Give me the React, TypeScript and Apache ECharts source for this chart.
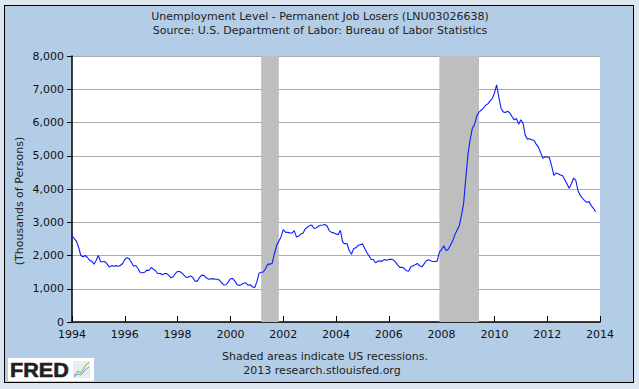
import React, { useEffect, useRef } from "react";
import * as echarts from "echarts";

// Monthly values, thousands of persons, starting January 1994
const values1994 = [2600, 2510, 2430, 2250, 2000, 1960, 2000, 1940, 1860, 1825, 1740, 1860];
const values1995 = [2000, 1810, 1810, 1820, 1740, 1650, 1695, 1675, 1695, 1675, 1700, 1760];
const values1996 = [1880, 1935, 1900, 1795, 1675, 1700, 1610, 1490, 1480, 1495, 1560, 1550];
const values1997 = [1640, 1590, 1540, 1450, 1465, 1420, 1455, 1460, 1400, 1330, 1360, 1460];
const values1998 = [1520, 1520, 1470, 1400, 1340, 1350, 1385, 1330, 1230, 1230, 1340, 1410];
const values1999 = [1400, 1330, 1290, 1295, 1305, 1285, 1285, 1260, 1180, 1115, 1120, 1200];
const values2000 = [1300, 1310, 1230, 1130, 1100, 1130, 1165, 1180, 1110, 1120, 1060, 1030];
const values2001 = [1200, 1465, 1495, 1505, 1610, 1740, 1740, 1770, 2050, 2300, 2430, 2560];
const values2002 = [2780, 2700, 2695, 2680, 2675, 2750, 2560, 2580, 2645, 2670, 2800, 2850];
const values2003 = [2900, 2920, 2810, 2830, 2880, 2910, 2915, 2935, 2880, 2740, 2695, 2680];
const values2004 = [2650, 2625, 2760, 2400, 2355, 2360, 2150, 2040, 2200, 2230, 2300, 2325];
const values2005 = [2350, 2220, 2090, 1990, 1880, 1880, 1780, 1830, 1830, 1830, 1880, 1860];
const values2006 = [1880, 1890, 1870, 1810, 1720, 1640, 1650, 1610, 1540, 1530, 1660, 1690];
const values2007 = [1720, 1760, 1690, 1660, 1740, 1840, 1870, 1840, 1820, 1820, 1830, 2110];
const values2008 = [2180, 2290, 2150, 2190, 2300, 2440, 2620, 2760, 2890, 3200, 3560, 4330];
const values2009 = [5050, 5500, 5830, 5950, 6200, 6310, 6370, 6430, 6520, 6560, 6650, 6720];
const values2010 = [6880, 7130, 6770, 6430, 6320, 6300, 6340, 6290, 6180, 6080, 6120, 5950];
const values2011 = [6080, 5980, 5620, 5500, 5510, 5480, 5460, 5350, 5260, 5100, 4920, 4970];
const values2012 = [4960, 4940, 4700, 4410, 4480, 4460, 4420, 4400, 4280, 4150, 4020, 4160];
const values2013 = [4330, 4260, 3950, 3810, 3730, 3650, 3600, 3620, 3500, 3420, 3320];

const startYear = 1994;
const endYear = 2014;
// Recessions as month offsets from January 1994 (Mar 2001-Nov 2001, Dec 2007-Jun 2009)
const recessionStarts = [86, 167];
const recessionEnds = [94, 185];

const titleLine1 = "Unemployment Level - Permanent Job Losers (LNU03026638)";
const titleLine2 = "Source: U.S. Department of Labor: Bureau of Labor Statistics";
const yAxisTitle = "(Thousands of Persons)";
const noteLine1 = "Shaded areas indicate US recessions.";
const noteLine2 = "2013 research.stlouisfed.org";

const allValues = [
  ...values1994, ...values1995, ...values1996, ...values1997, ...values1998,
  ...values1999, ...values2000, ...values2001, ...values2002, ...values2003,
  ...values2004, ...values2005, ...values2006, ...values2007, ...values2008,
  ...values2009, ...values2010, ...values2011, ...values2012, ...values2013,
];

const FONT = "DejaVu Sans, Verdana, sans-serif";

export default function App() {
  const ref = useRef<HTMLDivElement>(null);

  useEffect(() => {
    if (!ref.current) return;
    const chart = echarts.init(ref.current, null, { renderer: "svg" });
    const seriesData = allValues.map((v, i) => [i, v]);
    const areas = recessionStarts.map((s, i) => [{ xAxis: s }, { xAxis: recessionEnds[i] }]);

    chart.setOption({
      animation: false,
      backgroundColor: "transparent",
      grid: {
        left: 72,
        right: 39,
        top: 56,
        bottom: 67,
        show: true,
        backgroundColor: "#ffffff",
        borderWidth: 0,
      },
      xAxis: {
        type: "value",
        min: 0,
        max: (endYear - startYear) * 12,
        interval: 24,
        axisLine: { show: true, lineStyle: { color: "#000", width: 1.5 } },
        axisTick: { show: true, inside: true, length: 6, lineStyle: { color: "#000" } },
        splitLine: { show: false },
        axisLabel: {
          formatter: (v: number) => String(startYear + v / 12),
          color: "#111",
          fontFamily: FONT,
          fontSize: 11,
          margin: 7,
        },
      },
      yAxis: {
        type: "value",
        min: 0,
        max: 8000,
        interval: 1000,
        axisLine: { show: true, lineStyle: { color: "#000", width: 1.5 } },
        axisTick: { show: true, inside: false, length: 5, lineStyle: { color: "#000" } },
        splitLine: { show: true, lineStyle: { color: "#aaaaaa", width: 1 } },
        axisLabel: {
          formatter: (v: number) => v.toLocaleString("en-US"),
          color: "#111",
          fontFamily: FONT,
          fontSize: 11,
          margin: 8,
        },
      },
      series: [
        {
          type: "line",
          data: [],
          z: 1,
          markArea: {
            silent: true,
            itemStyle: { color: "#bebebe", opacity: 1 },
            data: areas,
          },
        },
        {
          type: "line",
          data: seriesData,
          z: 3,
          showSymbol: false,
          symbol: "none",
          lineStyle: { color: "#0a1eff", width: 1.1 },
        },
      ],
      graphic: [
        {
          type: "text",
          x: 320,
          y: 16,
          style: { text: titleLine1, font: `11px ${FONT}`, fill: "#222", textAlign: "center", textVerticalAlign: "middle" },
        },
        {
          type: "text",
          x: 320,
          y: 30,
          style: { text: titleLine2, font: `11px ${FONT}`, fill: "#222", textAlign: "center", textVerticalAlign: "middle" },
        },
        {
          type: "text",
          x: 19,
          y: 201,
          rotation: Math.PI / 2,
          style: { text: yAxisTitle, font: `11px ${FONT}`, fill: "#222", textAlign: "center", textVerticalAlign: "middle" },
        },
        {
          type: "text",
          x: 325,
          y: 356,
          style: { text: noteLine1, font: `11px ${FONT}`, fill: "#222", textAlign: "center", textVerticalAlign: "middle" },
        },
        {
          type: "text",
          x: 322,
          y: 370,
          style: { text: noteLine2, font: `11px ${FONT}`, fill: "#222", textAlign: "center", textVerticalAlign: "middle" },
        },
        {
          type: "rect",
          shape: { x: 8, y: 358, width: 86, height: 23 },
          style: { fill: "#ffffff" },
        },
        {
          type: "text",
          x: 10,
          y: 370,
          scaleX: 1.08,
          style: { text: "FRED", font: `900 20px "Liberation Sans", Arial, sans-serif`, fill: "#231f20", textAlign: "left", textVerticalAlign: "middle", stroke: "#231f20", lineWidth: 0.6 },
        },
        {
          type: "rect",
          shape: { x: 73, y: 361, width: 17, height: 17 },
          style: { fill: "#e8ecee" },
        },
        {
          type: "polyline",
          shape: { points: [[74, 376], [78, 371], [81, 373], [85, 366], [89, 362]] },
          style: { stroke: "#7cb342", lineWidth: 1, fill: null },
        },
        {
          type: "polyline",
          shape: { points: [[74, 377], [78, 374], [81, 375], [85, 370], [89, 367]] },
          style: { stroke: "#6aa0d8", lineWidth: 1, fill: null },
        },
      ],
    });

    return () => chart.dispose();
  }, []);

  return (
    <div style={{ position: "fixed", left: 0, top: 0, width: 639, height: 389, background: "#dde6ef" }}>
      <div
        style={{
          position: "absolute",
          left: 4,
          top: 5,
          width: 628,
          height: 376,
          background: "#b4cde6",
          border: "1.5px solid #000",
        }}
      />
      <div ref={ref} style={{ position: "absolute", left: 0, top: 0, width: 639, height: 389 }} />
    </div>
  );
}
